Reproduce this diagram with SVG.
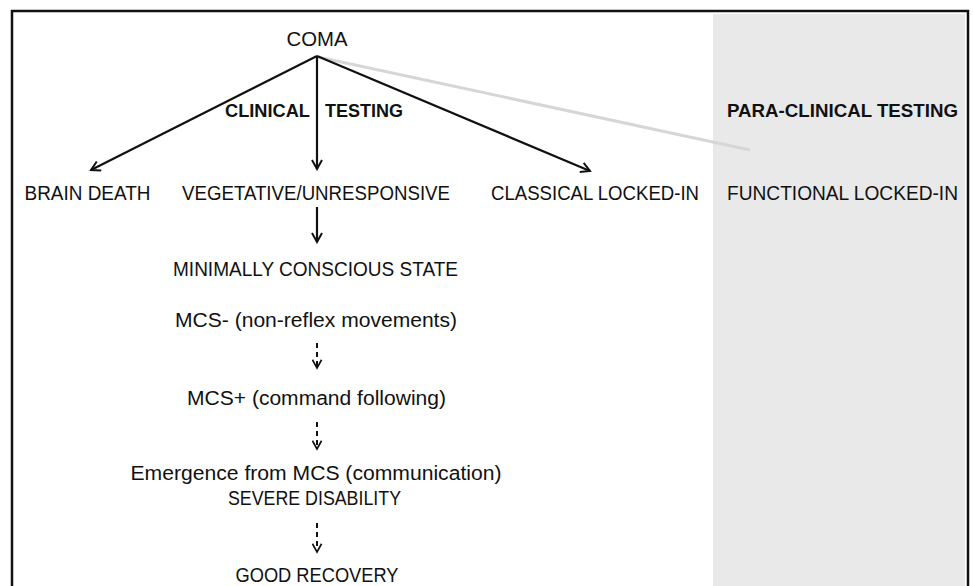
<svg xmlns="http://www.w3.org/2000/svg" width="973" height="586" viewBox="0 0 973 586">
<defs>
<style>
text{font-family:"Liberation Sans","Open Sans",sans-serif;font-size:19.5px;fill:#111;text-anchor:middle}
.b{font-weight:bold;font-size:19px}
.c{stroke:#111;stroke-width:2.2;fill:none}
.d{stroke:#111;stroke-width:2;fill:none;stroke-dasharray:5,4}
</style>
<marker id="ah" viewBox="0 0 12 12" refX="10" refY="6" markerWidth="12" markerHeight="12" markerUnits="userSpaceOnUse" orient="auto">
<polyline points="1,1 10,6 1,11" fill="none" stroke="#111" stroke-width="2"/>
</marker>
<marker id="ah2" viewBox="0 0 12 12" refX="10" refY="6" markerWidth="11" markerHeight="11" markerUnits="userSpaceOnUse" orient="auto">
<polyline points="1,1 10,6 1,11" fill="none" stroke="#111" stroke-width="1.8"/>
</marker>
</defs>
<rect width="973" height="586" fill="#fff"/>
<rect x="713" y="14" width="252" height="580" fill="#e9e9e9"/>
<rect x="12" y="11" width="956" height="600" fill="none" stroke="#111" stroke-width="2.5"/>
<g id="connectors">
<path d="M318,57 L750,150" stroke="#d6d6d6" stroke-width="3" fill="none"/>
<path class="c" d="M317,56 L91,170" marker-end="url(#ah)"/>
<path class="c" d="M317,56 L317,169" marker-end="url(#ah)"/>
<path class="c" d="M317,56 L590,171" marker-end="url(#ah)"/>
<path class="c" d="M317,207 L317,242" marker-end="url(#ah)"/>
<path class="d" d="M317,343 L317,368" marker-end="url(#ah2)"/>
<path class="d" d="M317,422 L317,449" marker-end="url(#ah2)"/>
<path class="d" d="M317,523 L317,552" marker-end="url(#ah2)"/>
</g>
<g id="coma"><text x="317" y="46" textLength="61" lengthAdjust="spacingAndGlyphs">COMA</text></g>
<g id="clinical"><text class="b" x="267.5" y="117" textLength="85" lengthAdjust="spacingAndGlyphs">CLINICAL</text><text class="b" x="364" y="117" textLength="78" lengthAdjust="spacingAndGlyphs">TESTING</text></g>
<g id="paraclinical"><text class="b" x="842.5" y="117" textLength="231" lengthAdjust="spacingAndGlyphs">PARA-CLINICAL TESTING</text></g>
<g id="brain-death"><text x="87.5" y="200" textLength="126" lengthAdjust="spacingAndGlyphs">BRAIN DEATH</text></g>
<g id="vegetative"><text x="316" y="200" textLength="268" lengthAdjust="spacingAndGlyphs">VEGETATIVE/UNRESPONSIVE</text></g>
<g id="classical"><text x="595" y="200" textLength="208" lengthAdjust="spacingAndGlyphs">CLASSICAL LOCKED-IN</text></g>
<g id="functional"><text x="842.5" y="200" textLength="231" lengthAdjust="spacingAndGlyphs">FUNCTIONAL LOCKED-IN</text></g>
<g id="mcs"><text x="315.5" y="276" textLength="285" lengthAdjust="spacingAndGlyphs">MINIMALLY CONSCIOUS STATE</text></g>
<g id="mcs-minus"><text x="316" y="327" textLength="282" lengthAdjust="spacingAndGlyphs">MCS- (non-reflex movements)</text></g>
<g id="mcs-plus"><text x="316.5" y="405" textLength="259" lengthAdjust="spacingAndGlyphs">MCS+ (command following)</text></g>
<g id="emergence"><text x="316" y="480" textLength="371" lengthAdjust="spacingAndGlyphs">Emergence from MCS (communication)</text><text x="314.5" y="505" textLength="173" lengthAdjust="spacingAndGlyphs">SEVERE DISABILITY</text></g>
<g id="good-recovery"><text x="317" y="582" textLength="163" lengthAdjust="spacingAndGlyphs">GOOD RECOVERY</text></g>
</svg>
